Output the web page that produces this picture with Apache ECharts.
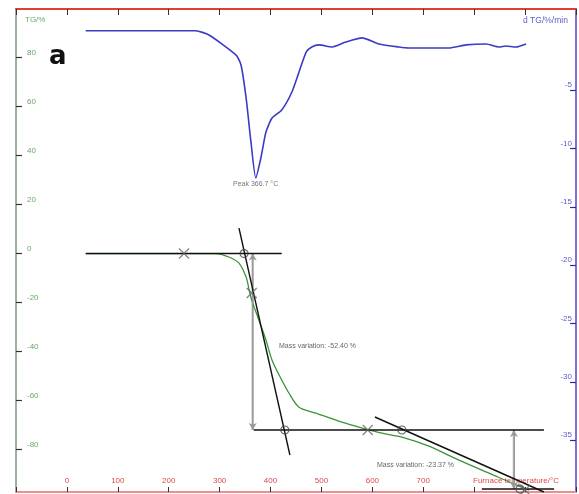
<!DOCTYPE html>
<html>
<head>
<meta charset="utf-8">
<script src="https://cdn.jsdelivr.net/npm/echarts@6/dist/echarts.min.js"></script>
<style>html,body{margin:0;padding:0;background:#fff}#c{width:579px;height:494px}</style>
</head>
<body>
<div id="c"></div>
<script>
// Furnace temperature (°C) vs dTG (%/min)
const dtgT = [37,253,279,332,342,352,361.5,371,381,391,403,422,442,456,470,481,495,521,548,580,613,652,672,750,784,823,849,862,882,902];
const dtgV = [0.1,0.1,-0.26,-1.97,-2.83,-5.66,-9.43,-12.52,-10.8,-8.58,-7.38,-6.69,-5.15,-3.43,-1.72,-1.29,-1.11,-1.29,-0.86,-0.51,-1.03,-1.29,-1.37,-1.37,-1.11,-1.03,-1.29,-1.2,-1.29,-1.03];
// Furnace temperature (°C) vs TG (%)
const tgT = [37,293,318,338,352,358,363,377,391,403,422,436,456,489,540,580,619,658,711,770,829,888,908];
const tgV = [0,0,-1.4,-3.9,-9.6,-14.9,-19.0,-27.1,-35.3,-43.5,-51.6,-56.9,-62.7,-65.1,-68.8,-71.2,-73.3,-74.9,-78.6,-84.3,-89.6,-94.9,-96.5];
// Construction lines (TG axis): [[T1,TG1],[T2,TG2]]
const tangentLines = [
  [[37,0],[422,0]],
  [[338,10.4],[438,-82.2]],
  [[367,-72],[937,-72]],
  [[815,-96.1],[957,-96.1]],
  [[605,-66.7],[937,-97.3]]
];
const circlePts = [[348,0],[428,-72],[658,-72],[890,-96.1]];
const crossPts = [[230,0],[363,-16.1],[591,-72],[900,-96.5]];
const arrows = [[[365,0],[365,-72]],[[878,-72],[878,-96.1]]];
const xTickLabels = [0,100,200,300,400,500,600,700];
const tgTickLabels = [80,60,40,20,0,-20,-40,-60,-80];
const dtgTickLabels = [-5,-10,-15,-20,-25,-30,-35];
const peakText = 'Peak 366.7 °C';
const massText1 = 'Mass variation: -52.40 %';
const massText2 = 'Mass variation: -23.37 %';

const FONT = 'Liberation Sans';
const chart = echarts.init(document.getElementById('c'), null, {renderer:'canvas'});
const series = [];
series.push({type:'line', xAxisIndex:0, yAxisIndex:1, data: dtgT.map((t,i)=>[t,dtgV[i]]),
  showSymbol:false, symbol:'none', smooth:0.2, lineStyle:{color:'#3b3bc4', width:1.6}, z:5});
series.push({type:'line', xAxisIndex:0, yAxisIndex:0, data: tgT.map((t,i)=>[t,tgV[i]]),
  showSymbol:false, symbol:'none', smooth:0.3, lineStyle:{color:'#3a933a', width:1.3}, z:4});
tangentLines.forEach(seg=>{
  series.push({type:'line', xAxisIndex:0, yAxisIndex:0, data: seg, symbol:'none',
    lineStyle:{color:'#111', width:1.4}, z:6});
});
arrows.forEach(seg=>{
  series.push({type:'line', xAxisIndex:0, yAxisIndex:0, data: seg, symbol:'none',
    lineStyle:{color:'#aaa', width:2.2}, z:3,
    markLine:{silent:true, symbol:['arrow','arrow'], symbolSize:[6,7], label:{show:false},
      lineStyle:{color:'#999', width:1, type:'solid'},
      data:[[{coord:seg[0]},{coord:seg[1]}]]}});
});
series.push({type:'scatter', xAxisIndex:0, yAxisIndex:0, data: circlePts, symbol:'circle', symbolSize:8,
  itemStyle:{color:'rgba(255,255,255,0)', borderColor:'#444', borderWidth:1.2}, z:7});
series.push({type:'scatter', xAxisIndex:0, yAxisIndex:0, data: crossPts, symbol:'path://M0,0L10,10M10,0L0,10', symbolSize:10,
  itemStyle:{color:'rgba(0,0,0,0)', borderColor:'#666', borderWidth:1.3}, z:7});

const option = {
  animation:false,
  backgroundColor:'#fff',
  grid:{left:16, right:3, top:9, bottom:2},
  xAxis:[
    {type:'value', position:'bottom', min:-100, max:1000, interval:100,
      axisLine:{show:true, onZero:false, lineStyle:{color:'#f08c8c', width:2}},
      axisTick:{show:true, inside:true, length:5, lineStyle:{color:'#333'}},
      axisLabel:{inside:true, margin:7, color:'#e04848', fontSize:8, fontFamily:FONT, customValues:xTickLabels},
      splitLine:{show:false}},
    {type:'value', position:'top', min:-100, max:1000, interval:100,
      axisLine:{show:true, onZero:false, lineStyle:{color:'#e03c3c', width:2}},
      axisTick:{show:true, inside:true, length:6, lineStyle:{color:'#333'}},
      axisLabel:{show:false}, splitLine:{show:false}}
  ],
  yAxis:[
    {type:'value', position:'left', min:-97.3, max:99.8,
      axisLine:{show:true, onZero:false, lineStyle:{color:'#9db39d', width:2}},
      axisTick:{show:true, inside:true, length:6, lineStyle:{color:'#333', width:1.2}, customValues:tgTickLabels},
      axisLabel:{inside:true, margin:11, color:'#6aa86a', fontSize:8, fontFamily:FONT, align:'left',
        verticalAlign:'bottom', lineHeight:10, customValues:tgTickLabels},
      splitLine:{show:false}},
    {type:'value', position:'right', min:-39.45, max:1.97,
      axisLine:{show:true, onZero:false, lineStyle:{color:'#7a6ee6', width:2}},
      axisTick:{show:true, inside:true, length:6, lineStyle:{color:'#2b2b9c', width:1.2}, customValues:dtgTickLabels},
      axisLabel:{inside:true, margin:4, color:'#5c5cd0', fontSize:8, fontFamily:FONT, align:'right',
        verticalAlign:'bottom', lineHeight:10, customValues:dtgTickLabels},
      splitLine:{show:false}}
  ],
  graphic:[
    {type:'text', left:25, top:16, style:{text:'TG/%', fill:'#6aa86a', font:'8px '+FONT}},
    {type:'text', left:523, top:16, style:{text:'d TG/%/min', fill:'#5c5cd0', font:'8.5px '+FONT}},
    {type:'text', left:49, top:44, style:{text:'a', fill:'#111', font:'bold 26px "DejaVu Sans"'}},
    {type:'text', left:233, top:181, style:{text:peakText, fill:'#777', font:'7px '+FONT}},
    {type:'text', left:279, top:343, style:{text:massText1, fill:'#666', font:'7px '+FONT}},
    {type:'text', left:377, top:462, style:{text:massText2, fill:'#666', font:'7px '+FONT}},
    {type:'text', left:473, top:477, style:{text:'Furnace temperature/°C', fill:'#e04848', font:'8px '+FONT}}
  ],
  series: series
};
chart.setOption(option);
</script>
</body>
</html>
